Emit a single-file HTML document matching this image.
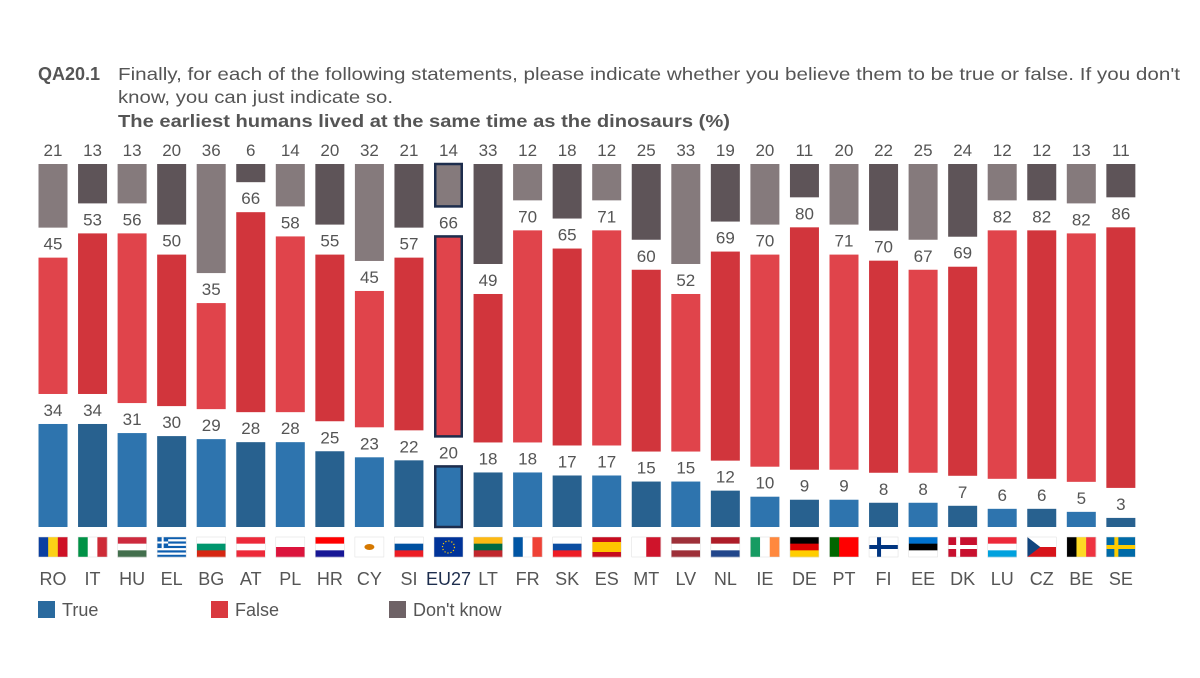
<!DOCTYPE html>
<html><head><meta charset="utf-8"><style>
body{margin:0;background:#fff;}
svg{display:block;font-family:"Liberation Sans",sans-serif;}
</style></head><body>
<svg id="chart" width="1200" height="678" viewBox="0 0 1200 678">
<text x="38" y="80" font-size="18" font-weight="bold" fill="#555">QA20.1</text>
<text x="118" y="80" font-size="17.5" fill="#555" textLength="1062" lengthAdjust="spacingAndGlyphs">Finally, for each of the following statements, please indicate whether you believe them to be true or false. If you don't</text>
<text x="118" y="103" font-size="17.5" fill="#555" textLength="275" lengthAdjust="spacingAndGlyphs">know, you can just indicate so.</text>
<text x="118" y="127" font-size="17.5" font-weight="bold" fill="#555" textLength="612" lengthAdjust="spacingAndGlyphs">The earliest humans lived at the same time as the dinosaurs  (%)</text>
<g id="bars"></g>
<g id="flags"></g>
<g id="legend">
<rect x="38" y="601" width="17" height="17" fill="#2a6a9e"/>
<text x="62" y="616" font-size="18" fill="#555">True</text>
<rect x="211" y="601" width="17" height="17" fill="#d9393f"/>
<text x="235" y="616" font-size="18" fill="#555">False</text>
<rect x="389" y="601" width="17" height="17" fill="#6e6266"/>
<text x="413" y="616" font-size="18" fill="#555">Don't know</text>
</g>
</svg>
<script>
const countries=["RO","IT","HU","EL","BG","AT","PL","HR","CY","SI","EU27","LT","FR","SK","ES","MT","LV","NL","IE","DE","PT","FI","EE","DK","LU","CZ","BE","SE"];
const trueVals=[34,34,31,30,29,28,28,25,23,22,20,18,18,17,17,15,15,12,10,9,9,8,8,7,6,6,5,3];
const falseVals=[45,53,56,50,35,66,58,55,45,57,66,49,70,65,71,60,52,69,70,80,71,70,67,69,82,82,82,86];
const dkVals=[21,13,13,20,36,6,14,20,32,21,14,33,12,18,12,25,33,19,20,11,20,22,25,24,12,12,13,11];
const NS="http://www.w3.org/2000/svg";
const x0=53, step=39.55, bw=29, base=527, k=3.03, gap=30;
const xPos=i=>x0+i*step;
const yLen=v=>v*k;
const col={t:["#2e74ae","#28618f"],f:["#e0444b","#d1353c"],d:["#857a7c","#5e5458"]};
function mk(tag,attrs,parent){const e=document.createElementNS(NS,tag);for(const a in attrs)e.setAttribute(a,attrs[a]);parent.appendChild(e);return e;}
const gb=document.getElementById('bars');
countries.forEach((c,i)=>{
  const cx=xPos(i), alt=i%2, eu=c==="EU27";
  const segs=[["true",trueVals[i],col.t[alt]],["false",falseVals[i],col.f[alt]],["dontknow",dkVals[i],col.d[alt]]];
  let bottom=base;
  segs.forEach(([nm,v,fill],si)=>{
    const h=yLen(v), top=bottom-h;
    const r=mk('rect',{x:cx-bw/2,y:top,width:bw,height:h,fill:fill},gb);
    
    
    if(eu){r.setAttribute('stroke','#1d2d4d');r.setAttribute('stroke-width','2.5');r.setAttribute('x',cx-bw/2+1.25);r.setAttribute('width',bw-2.5);}
    const t=mk('text',{x:cx,y:top-8,'text-anchor':'middle','font-size':17,fill:'#555'},gb);
    
    
    t.textContent=v;
    bottom=top-gap;
  });
  const lb=mk('text',{x:cx,y:585,'text-anchor':'middle','font-size':18,fill:eu?'#1d2d4d':'#555'},gb);
  
  
  lb.textContent=c;
});
// flags
const flagDefs={
RO:["v","#0b3fa0","#fcd116","#ce1126"],IT:["v","#009246","#fff","#ce2b37"],HU:["h","#cd2a3e","#fff","#436f4d"],
EL:["el"],BG:["h","#fff","#00966e","#d62612"],AT:["h","#ed2939","#fff","#ed2939"],PL:["h","#fff","#dc143c"],
HR:["h","#ff0000","#fff","#171796"],CY:["h","#fff","#fff","#fff"],SI:["h","#fff","#0050a0","#ed1c24"],EU:["eu"],
LT:["h","#fdb913","#006a44","#c1272d"],FR:["v","#0055a4","#fff","#ef4135"],SK:["h","#fff","#0b4ea2","#ee1c25"],
ES:["h","#c60b1e","#ffc400","#ffc400","#c60b1e"],MT:["v","#fff","#cf142b"],LV:["h","#9e3039","#fff","#9e3039"],
NL:["h","#ae1c28","#fff","#21468b"],IE:["v","#169b62","#fff","#ff883e"],DE:["h","#000","#dd0000","#ffce00"],
PT:["v","#006600","#ff0000","#ff0000"],FI:["cross","#fff","#003580"],EE:["h","#0072ce","#000","#fff"],
DK:["cross","#c8102e","#fff"],LU:["h","#ed2939","#fff","#00a1de"],CZ:["cz"],BE:["v","#000","#fdda24","#ef3340"],
SE:["cross","#006aa7","#fecc00"]};
const gf=document.getElementById('flags');
countries.forEach((c,i)=>{
  const fx=xPos(i)-bw/2, fy=537, fw=bw, fh=20;
  const g=mk('g',{},gf);
  
  
  const d=flagDefs[c==="EU27"?"EU":c];
  if(d[0]==="v"||d[0]==="h"){const n=d.length-1;for(let j=0;j<n;j++){
    if(d[0]==="v")mk('rect',{x:fx+j*fw/n,y:fy,width:fw/n+0.3,height:fh,fill:d[j+1]},g);
    else mk('rect',{x:fx,y:fy+j*fh/n,width:fw,height:fh/n+0.3,fill:d[j+1]},g);}}
  else if(d[0]==="cross"){mk('rect',{x:fx,y:fy,width:fw,height:fh,fill:d[1]},g);mk('rect',{x:fx+8,y:fy,width:4,height:fh,fill:d[2]},g);mk('rect',{x:fx,y:fy+8,width:fw,height:4,fill:d[2]},g);}
  else if(d[0]==="el"){for(let j=0;j<9;j++)mk('rect',{x:fx,y:fy+j*fh/9,width:fw,height:fh/9+0.2,fill:j%2?"#fff":"#0d5eaf"},g);mk('rect',{x:fx,y:fy,width:11,height:11,fill:"#0d5eaf"},g);mk('rect',{x:fx+4.5,y:fy,width:2,height:11,fill:"#fff"},g);mk('rect',{x:fx,y:fy+4.5,width:11,height:2,fill:"#fff"},g);}
  else if(d[0]==="eu"){mk('rect',{x:fx,y:fy,width:fw,height:fh,fill:"#003399"},g);mk('circle',{cx:fx+fw/2,cy:fy+fh/2,r:6,fill:"none",stroke:"#ffcc00","stroke-width":1.2,"stroke-dasharray":"1.2 1.9"},g);}
  else if(d[0]==="cz"){mk('rect',{x:fx,y:fy,width:fw,height:fh/2,fill:"#fff"},g);mk('rect',{x:fx,y:fy+fh/2,width:fw,height:fh/2,fill:"#d7141a"},g);mk('polygon',{points:`${fx},${fy} ${fx+13},${fy+fh/2} ${fx},${fy+fh}`,fill:"#11457e"},g);}
  if(c==="CY")mk('ellipse',{cx:fx+fw/2,cy:fy+fh/2,rx:5,ry:3,fill:"#d57800"},g);
  mk('rect',{x:fx,y:fy,width:fw,height:fh,fill:"none",stroke:"#ddd","stroke-width":0.5},g);
});
</script>
</body></html>
